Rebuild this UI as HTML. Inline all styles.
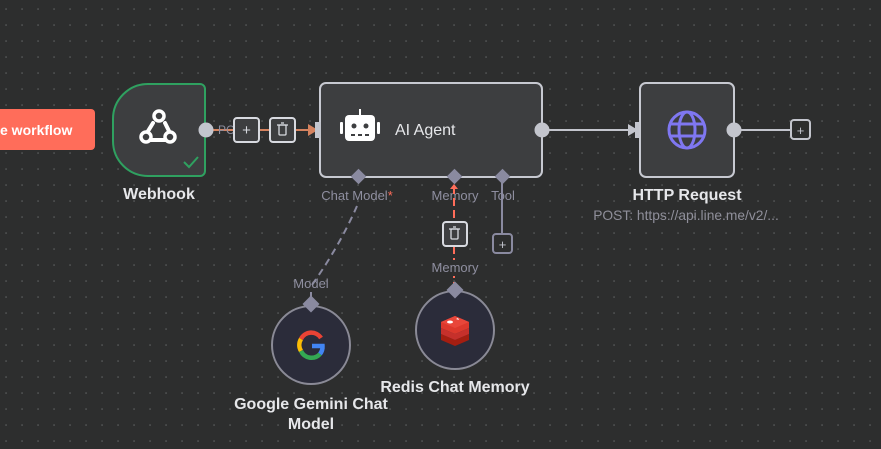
<!DOCTYPE html>
<html><head><style>
html,body{margin:0;padding:0;width:881px;height:449px;overflow:hidden;background:#2d2e2e;}
svg{display:block;font-family:"Liberation Sans",sans-serif;}
</style></head><body>
<svg width="881" height="449" viewBox="0 0 881 449">
<defs>
<pattern id="d" x="5.5" y="8.5" width="16" height="16" patternUnits="userSpaceOnUse"><rect width="1.1" height="1.1" fill="#7a7c7e"/></pattern>
</defs>
<rect width="881" height="449" fill="#2d2e2e"/>
<rect width="881" height="449" fill="url(#d)"/>

<rect x="-10" y="109" width="105" height="41" rx="4" fill="#ff6d5a"/>
<text x="0" y="135" fill="#fff" font-size="14" font-weight="bold">e workflow</text>

<line x1="206" y1="130" x2="312" y2="130" stroke="#d5835f" stroke-width="2"/>
<polygon points="308,124 318,130 308,136" fill="#d5835f"/>
<text x="218" y="134" fill="#8f8fa0" font-size="12">PC</text>
<rect x="234" y="118" width="25" height="24" rx="3" fill="#3d3e40" stroke="#d8dae0" stroke-width="2"/>
<text x="246.5" y="135" fill="#d8dae0" font-size="15" text-anchor="middle">+</text>
<rect x="270" y="118" width="25" height="24" rx="3" fill="#3d3e40" stroke="#d8dae0" stroke-width="2"/>
<g stroke="#d8dae0" stroke-width="1.3" fill="none"><rect x="279" y="125" width="7" height="10" rx="1"/><line x1="277" y1="125" x2="288" y2="125"/><line x1="281" y1="123" x2="284" y2="123"/></g>

<path d="M148,84 H200 a5,5 0 0 1 5,5 V171 a5,5 0 0 1 -5,5 H148 a35,35 0 0 1 -35,-35 V119 a35,35 0 0 1 35,-35 Z" fill="#3d3e40" stroke="#2fa160" stroke-width="2"/>
<g fill="none" stroke="#fff" stroke-width="4" stroke-linecap="round">
<path d="M153,123 l-8,13"/><path d="M151,140 h14"/><path d="M165,123 l4,8"/>
</g>
<circle cx="159" cy="116" r="5" fill="#3d3e40" stroke="#fff" stroke-width="3.5"/>
<circle cx="146" cy="137" r="5" fill="#3d3e40" stroke="#fff" stroke-width="3.5"/>
<circle cx="170" cy="137" r="5" fill="#3d3e40" stroke="#fff" stroke-width="3.5"/>
<path d="M184,162 l5,5 l9,-10" fill="none" stroke="#2fa160" stroke-width="2"/>
<circle cx="206" cy="130" r="7.5" fill="#c3c5cd"/>
<text x="159" y="199" fill="#e6e7ea" font-size="16" font-weight="bold" text-anchor="middle">Webhook</text>

<rect x="320" y="83" width="222" height="94" rx="6" fill="#3d3e40" stroke="#c7c9d1" stroke-width="2"/>
<rect x="315" y="122" width="6" height="16" fill="#c3c5cd"/>
<g fill="#fff">
<rect x="345" y="115" width="30" height="26" rx="4"/>
<rect x="340" y="122" width="3" height="12" rx="1"/><rect x="377" y="122" width="3" height="12" rx="1"/>
<rect x="359" y="109" width="2" height="6"/>
</g>
<circle cx="354" cy="126" r="2.5" fill="#3d3e40"/><circle cx="366" cy="126" r="2.5" fill="#3d3e40"/>
<g fill="#3d3e40"><rect x="351" y="134" width="4" height="2"/><rect x="358" y="134" width="4" height="2"/><rect x="365" y="134" width="4" height="2"/></g>
<text x="395" y="135" fill="#e6e7ea" font-size="16">AI Agent</text>
<circle cx="542" cy="130" r="7.5" fill="#c3c5cd"/>

<line x1="542" y1="130" x2="632" y2="130" stroke="#c3c5cd" stroke-width="2"/>
<polygon points="628,124 638,130 628,136" fill="#c3c5cd"/>
<rect x="635" y="122" width="6" height="16" fill="#c3c5cd"/>

<rect x="640" y="83" width="94" height="94" rx="6" fill="#3d3e40" stroke="#c7c9d1" stroke-width="2"/>
<g fill="none" stroke="#7f77f1" stroke-width="3">
<circle cx="687" cy="130" r="18"/><ellipse cx="687" cy="130" rx="8" ry="18"/>
<line x1="669" y1="124" x2="705" y2="124"/><line x1="669" y1="136" x2="705" y2="136"/>
</g>
<circle cx="734" cy="130" r="7.5" fill="#c3c5cd"/>
<line x1="734" y1="130" x2="791" y2="130" stroke="#c3c5cd" stroke-width="2"/>
<rect x="791" y="120" width="19" height="19" rx="3" fill="#2d2e2e" stroke="#c3c5cd" stroke-width="2"/>
<text x="800.5" y="135" fill="#c3c5cd" font-size="13" text-anchor="middle">+</text>
<text x="687" y="200" fill="#e6e7ea" font-size="16" font-weight="bold" text-anchor="middle">HTTP Request</text>
<text x="686" y="220" fill="#8f8f9a" font-size="13.8" text-anchor="middle">POST: https://api.line.me/v2/...</text>

<g fill="#8a8aa0">
<rect x="353" y="171" width="11" height="11" transform="rotate(45 358.5 176.5)"/>
<rect x="449" y="171" width="11" height="11" transform="rotate(45 454.5 176.5)"/>
<rect x="497" y="171" width="11" height="11" transform="rotate(45 502.5 176.5)"/>
</g>
<text x="357" y="200" fill="#8f8fa0" font-size="13" text-anchor="middle">Chat Model<tspan fill="#ff6d5a">*</tspan></text>
<text x="455" y="200" fill="#8f8fa0" font-size="13" text-anchor="middle">Memory</text>
<text x="503" y="200" fill="#8f8fa0" font-size="13" text-anchor="middle">Tool</text>

<path d="M357,206 Q340,245 312,285" fill="none" stroke="#8a8aa0" stroke-width="2" stroke-dasharray="7,5"/>
<text x="311" y="288" fill="#8f8fa0" font-size="13" text-anchor="middle">Model</text>
<line x1="311" y1="292" x2="311" y2="302" stroke="#8a8aa0" stroke-width="2"/>

<line x1="454" y1="186" x2="454" y2="290" stroke="#ff6d5a" stroke-width="2" stroke-dasharray="8,4"/>
<polygon points="450,189 454,184 458,189" fill="#ff6d5a"/>
<rect x="443" y="222" width="24" height="24" rx="3" fill="#3d3e40" stroke="#d8dae0" stroke-width="2"/>
<g stroke="#d8dae0" stroke-width="1.3" fill="none"><rect x="451" y="229" width="7" height="10" rx="1"/><line x1="449" y1="229" x2="460" y2="229"/><line x1="453" y1="227" x2="456" y2="227"/></g>
<rect x="440" y="260" width="30" height="16" fill="#2d2e2e"/>
<text x="455" y="272" fill="#8f8fa0" font-size="13" text-anchor="middle">Memory</text>

<line x1="502" y1="182" x2="502" y2="234" stroke="#8a8aa0" stroke-width="2"/>
<rect x="493" y="234" width="19" height="19" rx="3" fill="#2d2e2e" stroke="#8a8aa0" stroke-width="2"/>
<text x="502.5" y="249" fill="#c3c5cd" font-size="13" text-anchor="middle">+</text>

<circle cx="311" cy="345" r="39" fill="#2b2c3a" stroke="#8a8a96" stroke-width="2"/>
<rect x="305" y="298" width="12" height="12" fill="#8a8aa0" transform="rotate(45 311 304)"/>
<g fill="none" stroke-width="4.5">
<path d="M321,338 A11.5,11.5 0 0 0 301,339" stroke="#ea4335"/>
<path d="M301,339 A11.5,11.5 0 0 0 301,351" stroke="#fbbc05"/>
<path d="M301,351 A11.5,11.5 0 0 0 320,354" stroke="#34a853"/>
<path d="M320,354 A11.5,11.5 0 0 0 322.5,346 H312" stroke="#4285f4"/>
</g>
<text x="311" y="409" fill="#e6e7ea" font-size="16" font-weight="bold" text-anchor="middle">Google Gemini Chat</text>
<text x="311" y="429" fill="#e6e7ea" font-size="16" font-weight="bold" text-anchor="middle">Model</text>

<circle cx="455" cy="330" r="39" fill="#2b2c3a" stroke="#8a8a96" stroke-width="2"/>
<rect x="449" y="284" width="12" height="12" fill="#8a8aa0" transform="rotate(45 455 290)"/>
<g>
<path d="M441,334 l14,6 l14,-6 v6 l-14,6 l-14,-6 Z" fill="#a41e11"/>
<path d="M441,328 l14,6 l14,-6 v6 l-14,6 l-14,-6 Z" fill="#c6302b"/>
<path d="M441,322 l14,-6 l14,6 v6 l-14,6 l-14,-6 Z" fill="#dc382c"/>
<path d="M441,322 l14,-6 l14,6 l-14,6 Z" fill="#e8463a"/>
<ellipse cx="450" cy="322" rx="3" ry="1.5" fill="#fff"/>
<path d="M456,319 l2,-1 l1,2 z" fill="#fff"/>
</g>
<text x="455" y="392" fill="#e6e7ea" font-size="16" font-weight="bold" text-anchor="middle">Redis Chat Memory</text>
</svg>
</body></html>
